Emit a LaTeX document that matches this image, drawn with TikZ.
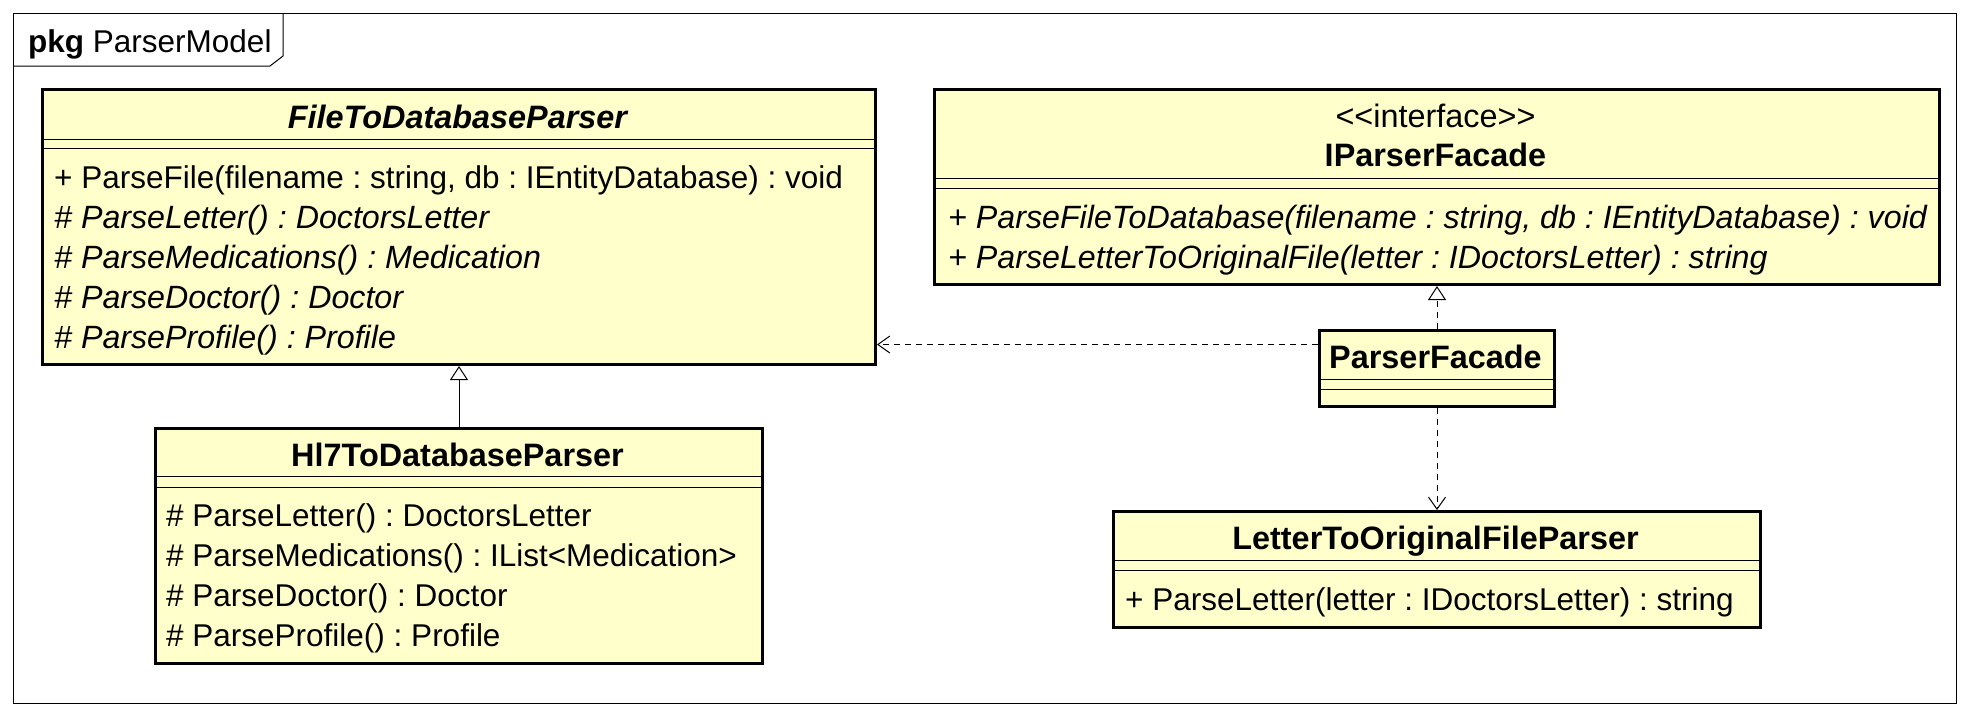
\documentclass[tikz,border=0pt]{standalone}
\usepackage{fontspec}
\newfontfamily\umlfont{Liberation Sans}
\usepackage{tikz}
\usetikzlibrary{arrows.meta,positioning,calc}
\definecolor{classfill}{HTML}{FFFFCC}

\begin{document}
\begin{tikzpicture}[x=1pt, y=-1pt,
    every node/.style={font=\umlfont\fontsize{31.5}{38}\selectfont\frenchspacing, inner sep=0pt},
    classbox/.style={draw, line width=3pt, fill=classfill, anchor=north west},
    sep/.style={line width=1pt},
    title/.style={anchor=base, font=\umlfont\fontsize{32.4}{38}\selectfont\frenchspacing},
    member/.style={anchor=base west},
    itmember/.style={anchor=base west, font=\umlfont\fontsize{32.2}{38}\selectfont\frenchspacing\itshape},
    generalize/.style={-{Triangle[open, length=14pt, width=18pt]}, line width=1pt},
    realize/.style={generalize, dash pattern=on 6pt off 5pt},
    dep/.style={-{Straight Barb[length=12pt, width=17pt]}, line width=1pt, dash pattern=on 6pt off 5pt}]
      \useasboundingbox (0, 0) rectangle (1970, 716);

      % package frame
      \draw[line width=1pt] (13, 13) rectangle (1956, 703);
      \draw[line width=1pt] (13, 66) -- (270, 66) -- (283, 56) -- (283, 13);
      \node[member] (pkgLabel) at (28, 52) {\textbf{pkg} ParserModel};

      % class boxes
      \node[classbox, minimum width=833pt, minimum height=275pt] (ftdp) at (41, 88) {};
      \node[classbox, minimum width=1005pt, minimum height=195pt] (ipf) at (933, 88) {};
      \node[classbox, minimum width=235pt, minimum height=76pt] (pf) at (1318, 329) {};
      \node[classbox, minimum width=607pt, minimum height=235pt] (hl7) at (154, 427) {};
      \node[classbox, minimum width=647pt, minimum height=116pt] (letter) at (1112, 510) {};

      \draw[sep] (ftdp.west |- 0, 139) -- (ftdp.east |- 0, 139);
      \draw[sep] (ftdp.west |- 0, 148) -- (ftdp.east |- 0, 148);
      \draw[sep] (ipf.west |- 0, 178) -- (ipf.east |- 0, 178);
      \draw[sep] (ipf.west |- 0, 188) -- (ipf.east |- 0, 188);
      \draw[sep] (pf.west |- 0, 379) -- (pf.east |- 0, 379);
      \draw[sep] (pf.west |- 0, 389) -- (pf.east |- 0, 389);
      \draw[sep] (hl7.west |- 0, 476) -- (hl7.east |- 0, 476);
      \draw[sep] (hl7.west |- 0, 487) -- (hl7.east |- 0, 487);
      \draw[sep] (letter.west |- 0, 560) -- (letter.east |- 0, 560);
      \draw[sep] (letter.west |- 0, 570) -- (letter.east |- 0, 570);

      % FileToDatabaseParser
      \node[title] (ftdpName) at (457.5, 128) {\bfseries\itshape FileToDatabaseParser};
      \node[member] (ftdpOpA) at (54, 188) {+ ParseFile(filename : string, db : IEntityDatabase) : void};
      \node[itmember] (ftdpOpB) at (54, 228) {\# ParseLetter() : DoctorsLetter};
      \node[itmember] (ftdpOpC) at (54, 268) {\# ParseMedications() : Medication};
      \node[itmember] (ftdpOpD) at (54, 308) {\# ParseDoctor() : Doctor};
      \node[itmember] (ftdpOpE) at (54, 348) {\# ParseProfile() : Profile};

      % IParserFacade
      \node[title] (ipfStereo) at (1435.5, 127) {<<interface>>};
      \node[title] (ipfName) at (1435.5, 166) {\bfseries IParserFacade};
      \node[itmember] (ipfOpA) at (948, 228) {+ ParseFileToDatabase(filename : string, db : IEntityDatabase) : void};
      \node[itmember] (ipfOpB) at (948, 268) {+ ParseLetterToOriginalFile(letter : IDoctorsLetter) : string};

      % ParserFacade
      \node[title] (pfName) at (1435.5, 368) {\bfseries ParserFacade};

      % Hl7ToDatabaseParser
      \node[title] (hl7Name) at (457.5, 466) {\bfseries Hl7ToDatabaseParser};
      \node[member] (hl7OpA) at (166, 526) {\# ParseLetter() : DoctorsLetter};
      \node[member] (hl7OpB) at (166, 566) {\# ParseMedications() : IList<Medication>};
      \node[member] (hl7OpC) at (166, 606) {\# ParseDoctor() : Doctor};
      \node[member] (hl7OpD) at (166, 646) {\# ParseProfile() : Profile};

      % LetterToOriginalFileParser
      \node[title] (letterName) at (1435.5, 549) {\bfseries LetterToOriginalFileParser};
      \node[member] (letterOpA) at (1125, 610) {+ ParseLetter(letter : IDoctorsLetter) : string};

      % relations
      \draw[generalize] (hl7) -- (ftdp);
      \draw[realize] (pf) -- (ipf);
      \draw[dep] (pf) -- (letter);
      \coordinate (pfUse) at ([yshift=24pt]pf.west);
      \draw[dep] (pfUse) -- (pfUse -| ftdp.east);
    \end{tikzpicture}
\end{document}
